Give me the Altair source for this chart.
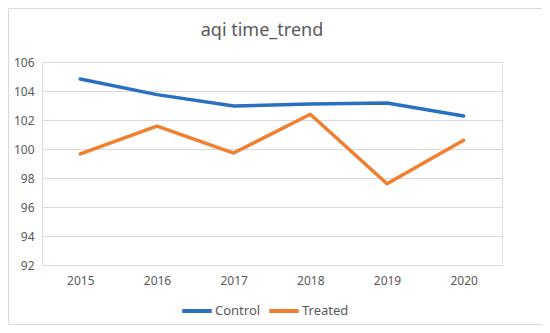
import altair as alt
import pandas as pd

years = ["2015", "2016", "2017", "2018", "2019", "2020"]
control = [104.83, 103.75, 102.97, 103.1, 103.17, 102.28]
treated = [99.66, 101.58, 99.72, 102.4, 97.6, 100.6]
series = ["Control", "Treated"]
colors = ["#2A70C0", "#F07F2F"]
y_ticks = [92, 94, 96, 98, 100, 102, 104, 106]

rows = []
for y, c, t in zip(years, control, treated):
    rows.append({"year": y, "group": "Control", "aqi": c})
    rows.append({"year": y, "group": "Treated", "aqi": t})
df = pd.DataFrame(rows)

FONT = "Noto Sans"
GRAY = "#595959"

lines = alt.Chart(df).mark_line(strokeWidth=3.5, strokeCap="round", strokeJoin="round").encode(
    x=alt.X("year:O", scale=alt.Scale(type="point", padding=0.5),
            axis=alt.Axis(title=None, labelAngle=0, domain=False, ticks=False,
                          labelPadding=10, labelFontSize=12, labelColor=GRAY, labelFont=FONT)),
    y=alt.Y("aqi:Q", scale=alt.Scale(domain=[92, 106], nice=False, zero=False),
            axis=alt.Axis(title=None, values=y_ticks, domain=False, ticks=False,
                          labelPadding=8, labelFontSize=12, labelColor=GRAY, labelFont=FONT,
                          grid=True, gridColor="#D9D9D9", gridWidth=1)),
    color=alt.Color("group:N", scale=alt.Scale(domain=series, range=colors),
                    legend=alt.Legend(title=None, orient="none", direction="horizontal",
                                      legendX=138, legendY=232,
                                      symbolType="stroke", symbolSize=870, symbolStrokeWidth=4,
                                      labelFontSize=13, labelColor=GRAY, labelFont=FONT,
                                      columnPadding=0, labelOffset=1)),
)

border = alt.Chart(pd.DataFrame({"a": [0]})).mark_rect(
    fill=None, stroke="#D9D9D9", strokeWidth=1
).encode(x=alt.value(-33.5), x2=alt.value(500.5), y=alt.value(-53.5), y2=alt.value(262.5))

chart = alt.layer(border, lines).properties(
    width=460, height=203,
    autosize=alt.AutoSizeParams(type="none"),
    padding={"left": 34, "top": 54, "right": 40, "bottom": 60},
    title=alt.TitleParams("aqi time_trend", fontSize=18, font=FONT, fontWeight="normal",
                          color=GRAY, anchor="middle", offset=0, dy=32, dx=-10),
).configure_view(stroke=None).configure(background="white")

chart.save("out.html", embed_options={"renderer": "svg", "actions": False})
